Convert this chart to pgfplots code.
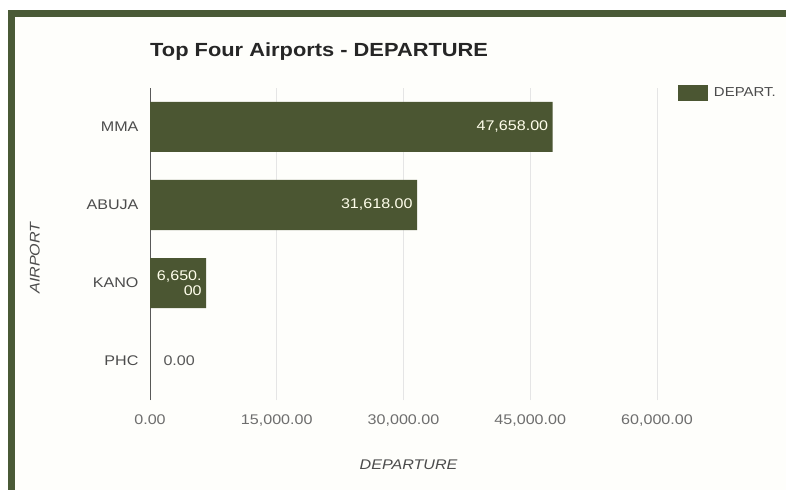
\documentclass[border=0pt]{standalone}
\usepackage{pgfplots}
\pgfplotsset{compat=1.18}
\usepackage{fontspec}
\setmainfont{Liberation Sans}[FakeStretch=1.15]
\definecolor{barc}{HTML}{4B5632}
\definecolor{framec}{HTML}{4A5A36}
\definecolor{bgc}{HTML}{FEFEFB}
\definecolor{tickc}{HTML}{6E6E6E}
\begin{document}
\begin{tikzpicture}[x=1pt,y=1pt]
\useasboundingbox (0,0) rectangle (786,490);
\fill[white] (0,0) rectangle (786,490);
\fill[framec] (8,0) rectangle (786,480);
\fill[bgc] (15,0) rectangle (786,473);
\node[font=\bfseries\fontsize{19}{23}\selectfont, anchor=west, text=black!85, inner sep=0pt] at (150,438) {Top Four Airports - DEPARTURE};
\begin{axis}[
  at={(150pt,90pt)}, anchor=south west,
  scale only axis, width=507pt, height=312pt,
  xmin=0, xmax=60000, ymin=-0.5, ymax=3.5,
  xbar, bar width=50pt,
  axis lines*=left,
  x axis line style={draw=none},
  y axis line style={draw=black!65, line width=1pt},
  major tick length=0pt,
  scaled x ticks=false,
  xtick={0,15000,30000,45000,60000},
  xticklabels={0.00,{15,000.00},{30,000.00},{45,000.00},{60,000.00}},
  ytick={0,1,2,3},
  yticklabels={PHC,KANO,ABUJA,MMA},
  xmajorgrids, grid style={black!10, line width=0.8pt},
  tick label style={font=\fontsize{14}{16}\selectfont, text=tickc},
  xticklabel style={yshift=-11pt},
  yticklabel style={xshift=-8pt, text=black!70},
  xlabel={\itshape DEPARTURE},
  x label style={at={(axis description cs:0.51,0)}, anchor=center, yshift=-65pt, font=\fontsize{14}{16}\selectfont, text=black!70},
  ylabel={\itshape AIRPORT},
  y label style={at={(axis description cs:-0.227,0.455)}, anchor=center, font=\fontsize{14}{16}\selectfont, text=black!70},
  legend style={at={(1.041,0.984)}, anchor=west, draw=none, fill=none, font=\fontsize{13}{15}\selectfont, text=black!70, inner sep=0pt},
  legend image code/.code={\fill[barc] (0pt,-8pt) rectangle (30pt,8pt);},
  legend cell align=left,
]
\addplot[fill=barc, draw=none, bar shift=0pt,
  nodes near coords, point meta=explicit symbolic,
  nodes near coords style={anchor=east, text=white!92!yellow, align=right, font=\fontsize{14}{15}\selectfont, xshift=-1pt}]
  coordinates {(47658,3) [{47,658.00}] (31618,2) [{31,618.00}] (6650,1) [{6,650.\\00}]};
\addlegendentry{\hspace{4pt}DEPART.}
\addplot[fill=barc, draw=none, bar shift=0pt, forget plot,
  nodes near coords, point meta=explicit symbolic,
  nodes near coords style={anchor=west, text=black!65, font=\fontsize{14}{15}\selectfont, xshift=10pt}]
  coordinates {(0,0) [0.00]};
\end{axis}
\end{tikzpicture}
\end{document}
